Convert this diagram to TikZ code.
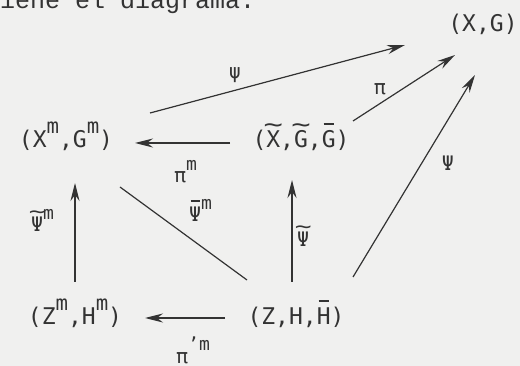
\documentclass[tikz,border=0pt]{standalone}
\usepackage{fontspec}
\setmainfont{DejaVu Sans Mono}
\newfontfamily\typefont{Liberation Mono}
\usetikzlibrary{arrows.meta,positioning,calc}
\definecolor{paper}{HTML}{F0F0EF}
\definecolor{ink}{HTML}{333333}
% raised index, bar and tilde as on the typewriter
\newcommand\up[1]{\raisebox{0.62em}{\scalebox{0.9}{#1}}}
\newcommand\wavy[1]{\setbox0\hbox{#1}\hbox to\wd0{\hss\raisebox{0.68em}{\scalebox{1.4}[1]{\char"007E}}\hss}\kern-\wd0\box0}
\newcommand\ovl[1]{\setbox0\hbox{#1}\hbox to\wd0{\hss\vrule height 1.08em depth -1.0em width 0.75\wd0\hss}\kern-\wd0\box0}

\begin{document}
\begin{tikzpicture}[x=1pt,y=-1pt,
  obj/.style={inner sep=0pt,anchor=base,font=\fontsize{23}{26}\selectfont,text=ink},
  lab/.style={inner sep=0pt,font=\fontsize{20}{22}\selectfont,text=ink},
  arr/.style={draw=ink,line width=1.2pt,-{Stealth[length=18pt,width=9pt,inset=6pt]}},
  bare/.style={draw=ink,line width=1.2pt}]
\fill[paper] (0,0) rectangle (520,366);
\useasboundingbox (0,0) rectangle (520,366);
\node[anchor=base west,inner sep=0pt,text=ink,font=\typefont\fontsize{25}{28}\selectfont] (head) at (0,9) {iene el diagrama.};

% objects
\node[obj] (XG) at (483,32) {(X,G)};
\node[obj] (Xm) at (66,148) {(X\up{m},G\up{m})};
\node[obj] (Xt) at (301,148) {(\wavy{X},\wavy{G},\ovl{G})};
\node[obj] (Zm) at (75,325) {(Z\up{m},H\up{m})};
\node[obj] (ZH) at (296,325) {(Z,H,\ovl{H})};

% maps
\draw[arr] ([shift={(84,-35)}]Xm.base) -- ([shift={(-78,13)}]XG.base);
\draw[arr] ([shift={(52,-27)}]Xt.base) -- ([shift={(-28,23)}]XG.base);
\draw[arr] ([shift={(57,-48)}]ZH.base) -- ([shift={(-8,43)}]XG.base);
\draw[arr] ([shift={(-71,-5)}]Xt.base) -- ([shift={(69,-5)}]Xm.base);
\draw[bare] ([shift={(-49,-45)}]ZH.base) -- ([shift={(54,39)}]Xm.base);
\draw[arr] ([shift={(0,-43)}]Zm.base) -- ([shift={(9,35)}]Xm.base);
\draw[arr] ([shift={(-4,-43)}]ZH.base) -- ([shift={(-9,32)}]Xt.base);
\draw[arr] ([shift={(-71,-7)}]ZH.base) -- ([shift={(70,-7)}]Zm.base);

% labels
\node[lab] (lpsi) at (235,75) {ψ};
\node[lab] (lpi) at (380,89) {π};
\node[lab] (lPsi) at (448,163) {Ψ};
\node[lab,anchor=base west] (lpim) at (174,183) {π\up{m}};
\node[lab,anchor=base west] (lPsibar) at (189,222) {\ovl{Ψ}\up{m}};
\node[lab,anchor=base west] (lPsitm) at (31,232) {\wavy{Ψ}\up{m}};
\node[lab,anchor=base west] (lPsit) at (297,247) {\wavy{Ψ}};
\node[lab,anchor=base west] (lpip) at (176,363) {π\up{'m}};
\end{tikzpicture}
\end{document}
